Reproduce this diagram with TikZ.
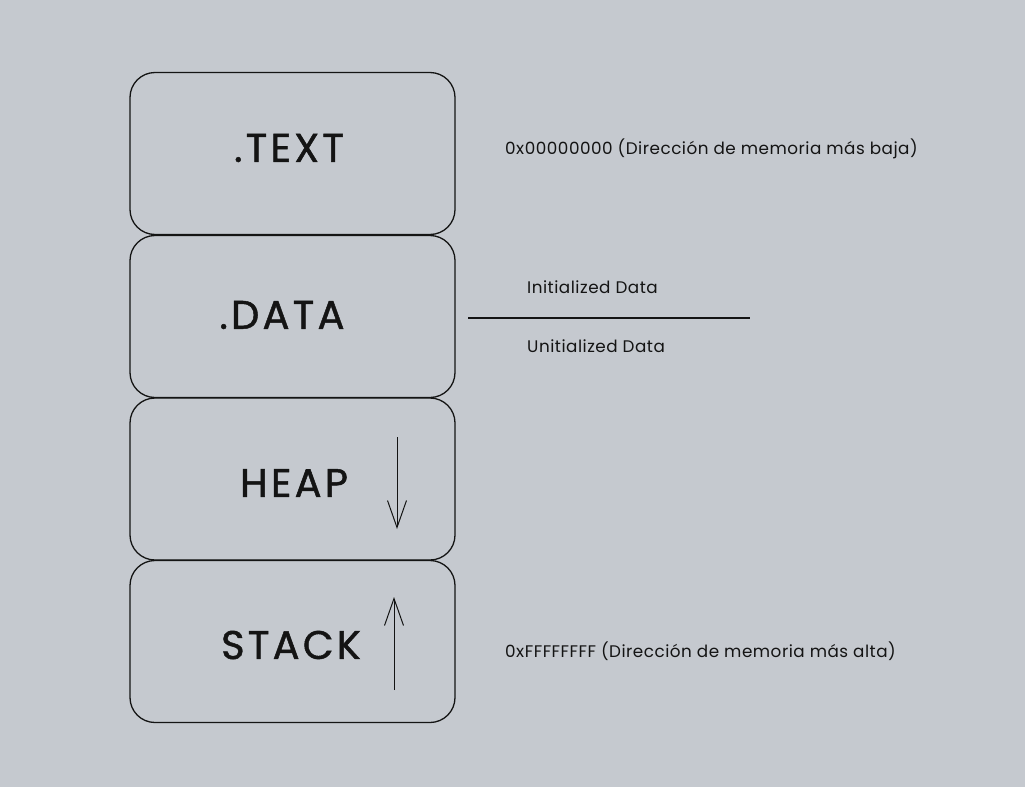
\documentclass[tikz,border=0pt]{standalone}
\usepackage{fontspec}
\setmainfont[LetterSpace=3]{Poppins}
\newfontfamily\bigfont[LetterSpace=8,FakeBold=1.2]{Poppins}
\usetikzlibrary{arrows.meta}
\definecolor{bg}{RGB}{197,201,207}
\definecolor{ink}{RGB}{20,20,20}
\begin{document}
\begin{tikzpicture}[x=1pt,y=-1pt,
  seg/.style={draw=ink,line width=1.3pt,rounded corners=25pt,minimum width=325pt,minimum height=162pt,inner sep=0pt},
  big/.style={font=\bigfont\fontsize{40}{44}\selectfont,text=ink,inner sep=0pt},
  small/.style={font=\fontsize{16.8}{19}\selectfont,text=ink,inner sep=0pt,anchor=west},
  arr/.style={draw=ink,line width=1pt,-{Straight Barb[length=27pt,width=19pt]}}]
\fill[bg] (0,0) rectangle (1025,787);
\useasboundingbox (0,0) rectangle (1025,787);
\node[seg] (text) at (292.5,153.5) {};
\node[seg] (data) at (292.5,316.5) {};
\node[seg] (heap) at (292.5,479) {};
\node[seg] (stack) at (292.5,641.5) {};
\node[big] (ltext) at (289,148) {.TEXT};
\node[big] (ldata) at (282,315) {.DATA};
\node[big] (lheap) at (294,483) {HEAP};
\node[big] (lstack) at (291,645) {STACK};
\coordinate (h1) at (397,437);
\coordinate (h2) at (397,529);
\coordinate (s1) at (394,690);
\coordinate (s2) at (394,597);
\draw[arr] (h1) -- (h2);
\draw[arr] (s1) -- (s2);
\node[small] (low) at (505,149) {0x00000000 (Dirección de memoria más baja)};
\node[small] (init) at (527,287) {Initialized Data};
\coordinate (d1) at (468,318);
\coordinate (d2) at (750,318);
\draw[ink,line width=1.3pt] (d1) -- (d2);
\node[small] (uninit) at (527,346) {Unitialized Data};
\node[small] (high) at (505,651) {0xFFFFFFFF (Dirección de memoria más alta)};
\end{tikzpicture}
\end{document}
